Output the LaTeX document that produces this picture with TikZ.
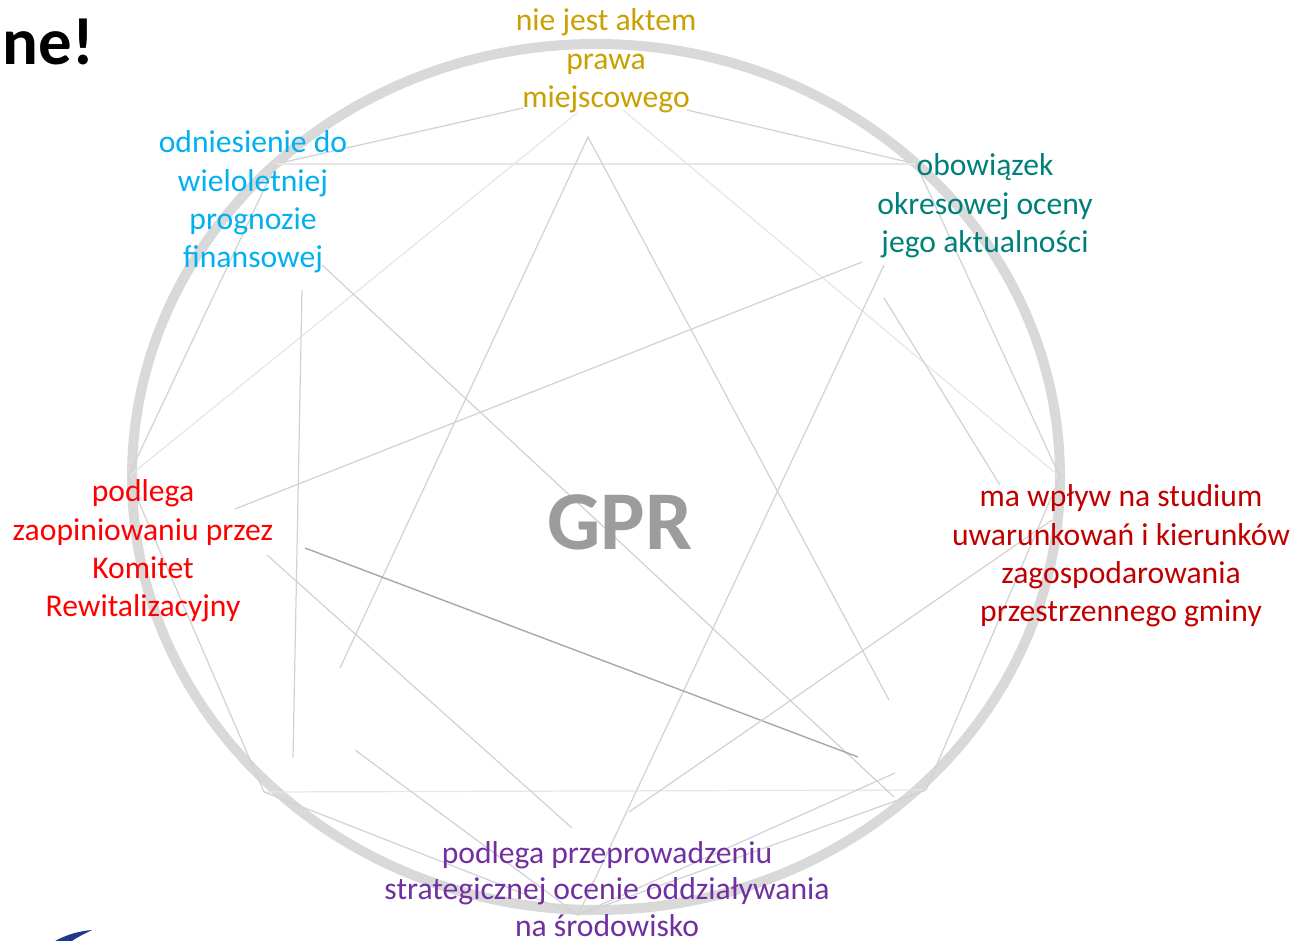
\documentclass[tikz,border=0pt]{standalone}
\usepackage{fontspec}
\setmainfont{Carlito}

\definecolor{ringgray}{HTML}{D9D9D9}
\definecolor{threadgray}{HTML}{D2D2D2}
\definecolor{faintgray}{HTML}{E6E6E6}
\definecolor{threaddark}{HTML}{A8A8A8}
\definecolor{gprgray}{HTML}{9C9C9C}
\definecolor{goldtxt}{HTML}{C8A000}
\definecolor{skytxt}{HTML}{00B0F0}
\definecolor{tealtxt}{HTML}{00807A}
\definecolor{redtxt}{HTML}{FF0000}
\definecolor{maroontxt}{HTML}{C00000}
\definecolor{violettxt}{HTML}{7030A0}
\definecolor{logoblue}{HTML}{1F3A8A}

\begin{document}
\begin{tikzpicture}[x=0.1mm,y=-0.1mm]

  \tikzstyle{ring}=[draw=ringgray,line width=1mm]
  \tikzstyle{thread}=[draw=threadgray,line width=0.35pt]
  \tikzstyle{faint}=[draw=faintgray,line width=0.35pt]
  \tikzstyle{darkthread}=[draw=threaddark,line width=0.4pt]
  \tikzstyle{lab}=[align=center,inner sep=0pt,font=\fontsize{9}{10.9}\selectfont]

  \useasboundingbox (0,0) rectangle (1301,941);
  \clip (0,0) rectangle (1301,941);

  % ring
  \draw[ring] (596,477) ellipse [x radius=46.4mm, y radius=43.3mm];

  % corner points of the star
  \coordinate (T) at (600,91);
  \coordinate (Tul) at (523,108);
  \coordinate (Tur) at (687,110);
  \coordinate (Tl) at (577,113);
  \coordinate (Tr) at (623,110);
  \coordinate (UL) at (276,164);
  \coordinate (UR) at (916,164);
  \coordinate (L) at (128,477);
  \coordinate (R) at (1060,477);
  \coordinate (BL) at (264,792);
  \coordinate (BR) at (926,790);
  \coordinate (B) at (578,915);

  % loose ends
  \coordinate (apex) at (588,137);
  \coordinate (apexl) at (340,668);
  \coordinate (apexr) at (889,700);
  \coordinate (vtop) at (302,290);
  \coordinate (vbot) at (293,758);
  \coordinate (fa) at (322,265);
  \coordinate (fb) at (894,797);
  \coordinate (ja) at (862,262);
  \coordinate (jb) at (235,509);
  \coordinate (ka) at (884,265);
  \coordinate (ma) at (884,298);
  \coordinate (mb) at (1000,485);
  \coordinate (da) at (305,548);
  \coordinate (db) at (858,757);
  \coordinate (za) at (267,555);
  \coordinate (zb) at (572,828);
  \coordinate (sa) at (355,750);
  \coordinate (pa) at (629,812);
  \coordinate (pb) at (1052,520);
  \coordinate (qa) at (895,773);

  % lines
  \draw[thread] (UL) -- (Tul);
  \draw[thread] (UR) -- (Tur);
  \draw[faint]  (Tl) -- (L);
  \draw[faint]  (Tr) -- (R);
  \draw[faint]  (UL) -- (UR);
  \draw[faint]  (BL) -- (BR);
  \draw[thread] (UL) -- (L);
  \draw[thread] (UR) -- (R);
  \draw[thread] (L) -- (BL);
  \draw[thread] (R) -- (BR);
  \draw[thread] (BL) -- (B);
  \draw[thread] (BR) -- (B);
  \draw[thread] (apexl) -- (apex) -- (apexr);
  \draw[thread] (vtop) -- (vbot);
  \draw[thread] (fa) -- (fb);
  \draw[thread] (ja) -- (jb);
  \draw[thread] (ka) -- (B);
  \draw[thread] (ma) -- (mb);
  \draw[darkthread] (da) -- (db);
  \draw[thread] (za) -- (zb);
  \draw[thread] (sa) -- (B);
  \draw[thread] (pa) -- (pb);
  \draw[thread] (qa) -- (B);

  % labels
  \node[lab,text=goldtxt] (prawo) at (606,61) {nie jest aktem\\prawa\\miejscowego};
  \node[lab,text=skytxt] (wpf) at (253,202) {odniesienie do\\wieloletniej\\prognozie\\finansowej};
  \node[lab,text=tealtxt] (ocena) at (985,206) {obowiązek\\okresowej oceny\\jego aktualności};
  \node[lab,text=redtxt] (komitet) at (143,551) {podlega\\zaopiniowaniu przez\\Komitet\\Rewitalizacyjny};
  \node[lab,text=maroontxt] (studium) at (1121,556) {ma wpływ na studium\\uwarunkowań i kierunków\\zagospodarowania\\przestrzennego gminy};
  \node[lab,text=violettxt,font=\fontsize{9}{10.4}\selectfont] (oos) at (607,889) {podlega przeprowadzeniu\\strategicznej ocenie oddziaływania\\na środowisko};
  \node[anchor=base,inner sep=0pt,text=gprgray,font=\bfseries\fontsize{23.8}{28}\selectfont] (gpr) at (620,550) {GPR};
  \node[anchor=base west,inner sep=0pt,font=\bfseries\fontsize{19}{23}\selectfont] (tytul) at (2,65) {ne!};

  % logo scrap
  \fill[logoblue] (55,941) .. controls (68,934) and (80,931) .. (92,930) .. controls (84,934) and (76,938) .. (72,941) -- cycle;

\end{tikzpicture}
\end{document}
